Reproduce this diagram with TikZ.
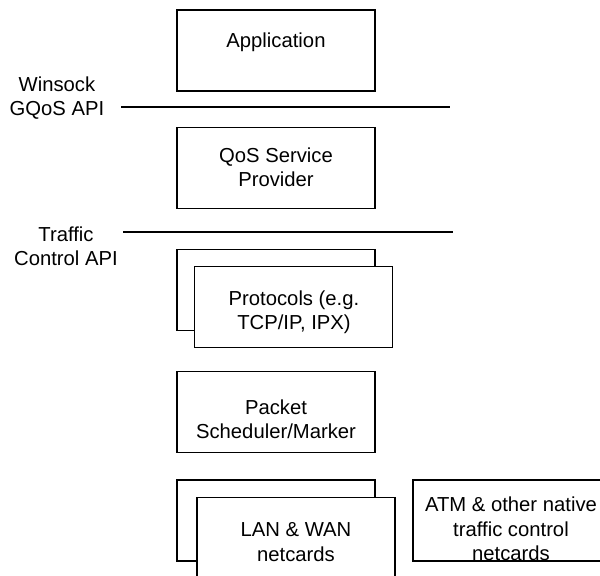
\documentclass[tikz,border=0pt]{standalone}
\usepackage{fontspec}
\setmainfont{Liberation Sans}
\usepackage{tikz}
\usetikzlibrary{positioning}
\tikzset{
  % node options
  layer/.style={rectangle,draw,line width=1.2pt,fill=white,
    minimum width=4.95cm,minimum height=2.025cm},
  laytext/.style={align=center,inner sep=0pt,font=\fontsize{14.4pt}{17.4pt}\selectfont},
  apiname/.style={laytext},
  % path options
  apiline/.style={line width=1.2pt},
}
\begin{document}
\begin{tikzpicture}[x=0.025cm,y=-0.025cm]
  \clip (0,0) rectangle (600,575);
  \fill[white] (0,0) rectangle (600,575);
  % stack of layers
  \node[layer] (app) at (276,50.5) {};
  \node[laytext] (apptext) at (276,42) {Application};
  \node[layer] (qos) at (276,168) {};
  \node[laytext] (qostext) at (276,167) {QoS Service\\Provider};
  \node[layer] (protoback) at (276,290) {};
  \node[layer] (proto) at (293.5,307) {};
  \node[laytext] (prototext) at (294,312) {Protocols (e.g.\\TCP/IP, IPX)};
  \node[layer] (sched) at (276,412) {};
  \node[laytext] (schedtext) at (276,419) {Packet\\Scheduler/Marker};
  \node[layer] (nicback) at (276,520.5) {};
  \node[layer] (nic) at (296,538) {};
  \node[laytext] (nictext) at (296,542) {LAN \& WAN\\netcards};
  \node[layer] (atm) at (512,520.5) {};
  \node[laytext] (atmtext) at (511,529) {ATM \& other native\\traffic control\\netcards};
  % API boundaries
  \node[apiname] (gqos) at (57,98) {Winsock\\GQoS API};
  \node[apiname] (tc) at (66,246) {Traffic\\Control API};
  \coordinate (gqosL) at (121,107);
  \coordinate (gqosR) at (450,107);
  \coordinate (tcL) at (123,232);
  \coordinate (tcR) at (453,232);
  \draw[apiline] (gqosL) -- (gqosR);
  \draw[apiline] (tcL) -- (tcR);
\end{tikzpicture}
\end{document}
